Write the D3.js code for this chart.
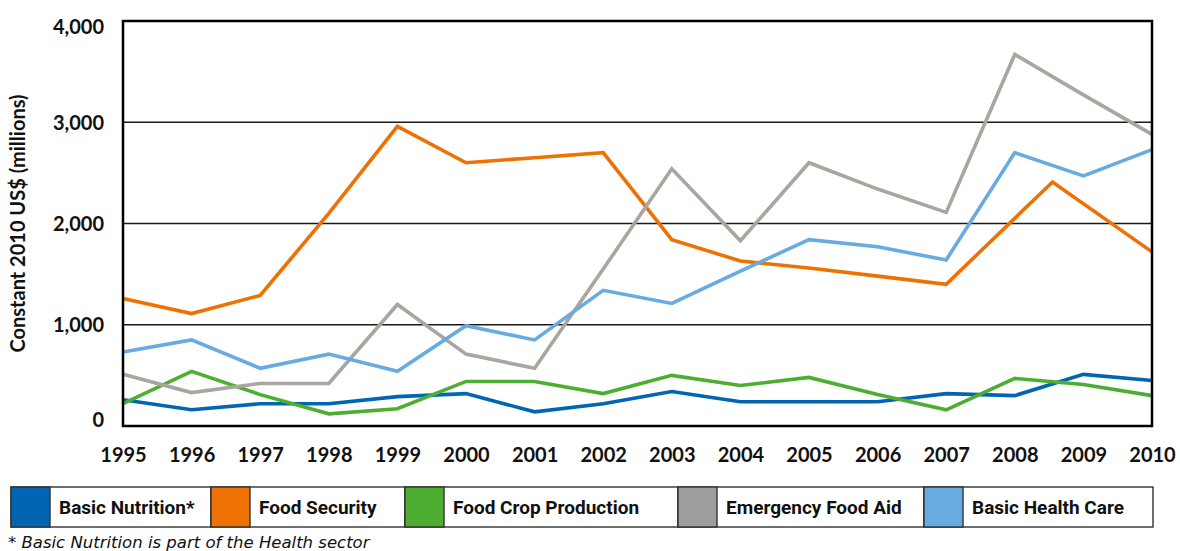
<!DOCTYPE html>
<html>
<head>
<meta charset="utf-8">
<script src="https://cdn.jsdelivr.net/npm/d3@7"></script>
<style>
  body { margin: 0; background: #fff; }
  svg { display: block; }
</style>
</head>
<body>
<div id="viz"></div>
<script>
// values, constant 2010 US$ millions
const years = [1995, 1996, 1997, 1998, 1999, 2000, 2001, 2002, 2003, 2004, 2005, 2006, 2007, 2008, 2009, 2010];
const basicNutrition = [260, 160, 220, 220, 290, 320, 140, 220, 340, 240, 240, 240, 320, 300, 510, 450];
// food security peaks between 2008 and 2009 in the original, so it keeps its own x positions
const foodSecurityYears = [1995, 1996, 1997, 1998, 1999, 2000, 2001, 2002, 2003, 2004, 2005, 2006, 2007, 2008.55, 2010];
const foodSecurity = [1260, 1110, 1290, 2100, 2960, 2600, 2650, 2700, 1840, 1630, 1560, 1480, 1400, 2410, 1720];
const foodCropProduction = [220, 540, 310, 120, 170, 440, 440, 320, 500, 400, 480, 310, 160, 470, 410, 300];
const emergencyFoodAid = [510, 330, 420, 420, 1200, 710, 570, 1550, 2540, 1830, 2600, 2340, 2110, 3670, 3270, 2880];
const basicHealthCare = [730, 850, 570, 710, 540, 990, 850, 1340, 1210, 1530, 1840, 1770, 1640, 2700, 2470, 2730];
const yTicks = [0, 1000, 2000, 3000, 4000];
const legendNames = ["Basic Nutrition*", "Food Security", "Food Crop Production", "Emergency Food Aid", "Basic Health Care"];
const colors = ["#0065b3", "#ee7203", "#4dae32", "#a9a59f", "#67abe0"];
const swatchColors = ["#0065b3", "#ee7203", "#4dae32", "#9e9e9e", "#67abe0"];

const width = 1180, height = 551;
const plot = {left: 123, right: 1152, top: 21, bottom: 426};

const series = [
  {years: years, values: basicNutrition},
  {years: foodSecurityYears, values: foodSecurity},
  {years: years, values: foodCropProduction},
  {years: years, values: emergencyFoodAid},
  {years: years, values: basicHealthCare}
].map((s, i) => ({name: legendNames[i], color: colors[i], points: s.years.map((yr, j) => ({year: yr, value: s.values[j]}))}));

const svg = d3.select("#viz").append("svg").attr("width", width).attr("height", height);

const x = d3.scaleLinear().domain([1995, 2010]).range([plot.left, plot.right]);
const y = d3.scaleLinear().domain([0, 4000]).range([plot.bottom, plot.top]);

// grid
svg.append("g").selectAll("line").data(yTicks.slice(1, -1)).enter().append("line")
  .attr("x1", plot.left).attr("x2", plot.right)
  .attr("y1", d => y(d)).attr("y2", d => y(d))
  .attr("stroke", "#1a1a1a").attr("stroke-width", 1.3);

// axes
const tickFont = g => g.selectAll("text")
  .attr("font-family", "Lato, 'DejaVu Sans', sans-serif")
  .attr("font-weight", "bold")
  .attr("font-size", 20)
  .attr("fill", "#111");

svg.append("g")
  .attr("transform", `translate(${plot.left},0)`)
  .call(d3.axisLeft(y).tickValues(yTicks).tickSize(0).tickPadding(19).tickFormat(d3.format(",")))
  .call(g => g.select(".domain").remove())
  .call(tickFont)
  .call(g => g.selectAll("text").attr("dy", d => d === 4000 ? "0.62em" : d === 0 ? "0" : "0.36em"));

svg.append("g")
  .attr("transform", `translate(0,${plot.bottom})`)
  .call(d3.axisBottom(x).tickValues(years).tickSize(0).tickPadding(22).tickFormat(d3.format("d")))
  .call(g => g.select(".domain").remove())
  .call(tickFont);

svg.append("text")
  .attr("transform", `translate(25,${(plot.top + plot.bottom) / 2}) rotate(-90)`)
  .attr("text-anchor", "middle")
  .attr("font-family", "Lato, 'DejaVu Sans', sans-serif")
  .attr("font-weight", "bold")
  .attr("font-size", 20)
  .attr("fill", "#111")
  .text("Constant 2010 US$ (millions)");

// lines
const line = d3.line().x(d => x(d.year)).y(d => y(d.value));
svg.append("g").selectAll("path").data(series).enter().append("path")
  .attr("d", d => line(d.points))
  .attr("fill", "none")
  .attr("stroke", d => d.color)
  .attr("stroke-width", 3.6)
  .attr("stroke-linejoin", "miter");

// plot frame
svg.append("rect")
  .attr("x", plot.left).attr("y", plot.top)
  .attr("width", plot.right - plot.left).attr("height", plot.bottom - plot.top)
  .attr("fill", "none").attr("stroke", "#000").attr("stroke-width", 2.5);

// legend
const legendX = [11, 211, 405, 678, 924, 1153];
const swatchW = 39, legendTop = 487, legendH = 40;
const legend = svg.append("g");
legendNames.forEach((name, i) => {
  legend.append("rect")
    .attr("x", legendX[i]).attr("y", legendTop)
    .attr("width", legendX[i + 1] - legendX[i]).attr("height", legendH)
    .attr("fill", "#fff").attr("stroke", "#333").attr("stroke-width", 1.4);
  legend.append("rect")
    .attr("x", legendX[i]).attr("y", legendTop)
    .attr("width", swatchW).attr("height", legendH)
    .attr("fill", swatchColors[i]).attr("stroke", "#333").attr("stroke-width", 1.4);
  legend.append("text")
    .attr("x", legendX[i] + swatchW + 9)
    .attr("y", legendTop + legendH / 2)
    .attr("dy", "0.36em")
    .attr("font-family", "'Liberation Sans Narrow', 'Roboto', sans-serif")
    .attr("font-weight", "bold")
    .attr("font-size", 19)
    .attr("fill", "#111")
    .text(name);
});

svg.append("text")
  .attr("x", 8).attr("y", 548)
  .attr("font-family", "'DejaVu Sans', sans-serif")
  .attr("font-style", "italic")
  .attr("font-size", 16.5)
  .attr("fill", "#111")
  .text("* Basic Nutrition is part of the Health sector");
</script>
</body>
</html>
